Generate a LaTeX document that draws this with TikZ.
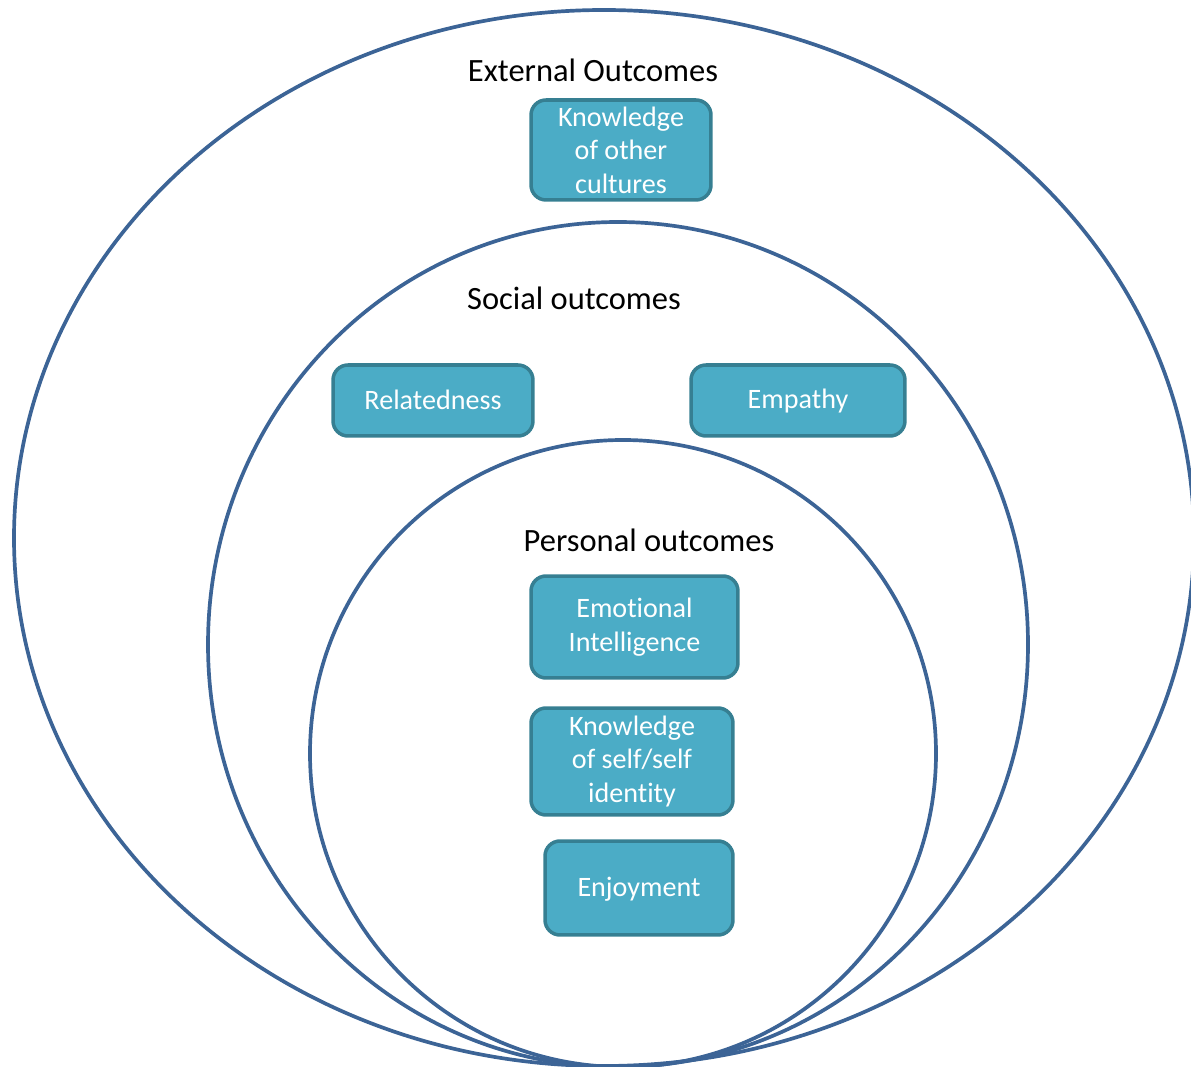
\documentclass[tikz,border=0pt]{standalone}
\usepackage{fontspec}
\setmainfont[Ligatures={NoCommon,NoRequired,NoContextual}]{Carlito}
\usepackage{xcolor}
\definecolor{ringblue}{HTML}{3C6496}
\definecolor{boxfill}{HTML}{4BACC6}
\definecolor{boxline}{HTML}{367F92}
\newcommand{\linestrut}{\rule[-2pt]{0pt}{14pt}}
\newcommand{\ti}{t\kern0pt i}

\begin{document}
\begin{tikzpicture}[x=0.02cm, y=-0.02cm,
		ring/.style={draw=ringblue, line width=2.1pt},
		outcome/.style={draw=boxline, fill=boxfill, line width=2pt, rounded corners=0.3cm,
			text=white, align=center, font=\fontsize{16}{19}\selectfont, inner sep=0pt},
		heading/.style={font=\fontsize{18.5}{22}\selectfont, text=black}]
				\useasboundingbox (0,0) rectangle (1191,1067);
				\begin{scope}
					\clip (0,0) rectangle (1191,1067);
					\draw[ring] (604,538) ellipse [x radius=590, y radius=528];
				\end{scope}
				\draw[ring] (618,644.5) ellipse [x radius=410, y radius=422.5];
				\draw[ring] (623,753.5) ellipse [x radius=313, y radius=313.5];
				\node[heading] (external) at (593,70) {External Outcomes};
				\node[heading] (social) at (574,298) {Social outcomes};
				\node[heading] (personal) at (649,540) {Personal outcomes};
				\node[outcome, minimum width=3.6cm, minimum height=2cm] (cultures) at (621,150) {Knowledge\\of other\\cultures};
				\node[outcome, minimum width=4cm, minimum height=1.42cm] (related) at (433,400.5) {\linestrut Relatedness};
				\node[outcome, minimum width=4.28cm, minimum height=1.42cm] (empathy) at (798,400.5) {\linestrut Empathy};
				\node[outcome, minimum width=4.14cm, minimum height=2.04cm] (emotional) at (634.5,627) {Emo\ti onal\\Intelligence};
				\node[outcome, minimum width=4.04cm, minimum height=2.14cm] (self) at (632,761.5) {Knowledge\\of self/self\\iden\ti ty};
				\node[outcome, minimum width=3.76cm, minimum height=1.88cm] (enjoy) at (639,888) {\linestrut Enjoyment};
			\end{tikzpicture}
\end{document}
